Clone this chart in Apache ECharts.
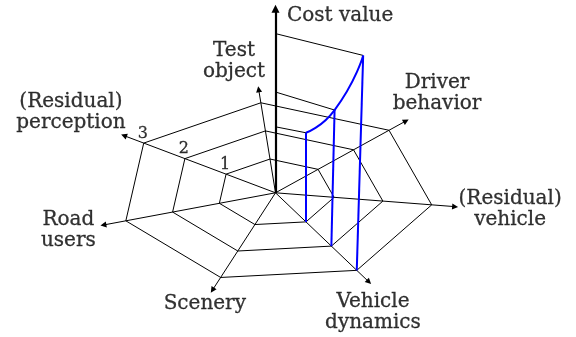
<!DOCTYPE html>
<html><head><meta charset="utf-8">
<script src="https://cdn.jsdelivr.net/npm/echarts@6/dist/echarts.min.js"></script>
<style>html,body{margin:0;padding:0;background:#fff}#c{width:576px;height:337px}</style>
</head><body><div id="c"></div>
<script>
// ---------- data ----------
const axisNames = ['Test\nobject', 'Driver\nbehavior', '(Residual)\nvehicle', 'Vehicle\ndynamics', 'Scenery', 'Road\nusers', '(Residual)\nperception'];
const ringLevels = [1, 2, 3];
const ringTickLabels = ['1', '2', '3'];
const tickAxis = '(Residual)\nperception';
const costAxisName = 'Cost value';
const costAxisFor = 'Vehicle\ndynamics';
const costLevels = [1, 2, 3];
const costValues = [1.65, 2.52, 3.98];
const costAxisMax = 4.6;
const axisMaxLevel = 3.48;

// ---------- layout ----------
const C = [275.5, 192.8];
const EX = [-4.58, -28.13], EY = [49.02, -2.56];
const R0 = 0.2;
const COST_PX = 40;
const BLUE_STRETCH = 1.35, BLUE_TILT_PER_LEVEL = 3.2;
const labelOffsets = [[-24.6, -28], [31, -28], [55, 3], [4, 30], [-7.6, 14], [-35, 5], [-53, -23]];
const tickOffset = [-1, -9.5];
const costLabelOffset = [11.5, 7];

function proj(k, level) {
  const t = 2 * Math.PI * k / axisNames.length;
  const r = level + R0;
  return [C[0] + r * (Math.cos(t) * EX[0] + Math.sin(t) * EY[0]),
          C[1] + r * (Math.cos(t) * EX[1] + Math.sin(t) * EY[1])];
}
const costPoint = v => [C[0], C[1] - v * COST_PX];

const series = [];
// rings
ringLevels.forEach(l => {
  const pts = axisNames.map((_, k) => proj(k, l));
  pts.push(pts[0]);
  series.push({type: 'line', data: pts, symbol: 'none', lineStyle: {color: '#000', width: 1}, silent: true, z: 2});
});
// radial axes with arrows
series.push({
  type: 'lines', coordinateSystem: 'cartesian2d', z: 3,
  data: axisNames.map((_, k) => ({coords: [C, proj(k, axisMaxLevel)]})),
  symbol: ['none', 'triangle'], symbolSize: 6,
  lineStyle: {color: '#000', width: 1, opacity: 1}
});
// cost axis
series.push({
  type: 'lines', coordinateSystem: 'cartesian2d', z: 5,
  data: [{coords: [C, costPoint(costAxisMax)]}],
  symbol: ['none', 'triangle'], symbolSize: 8,
  lineStyle: {color: '#000', width: 2.2, opacity: 1}
});
// blue verticals and connectors
const kc = axisNames.indexOf(costAxisFor);
const bottoms = costLevels.map(l => proj(kc, l));
const tops = bottoms.map((b, i) => {
  const h = BLUE_STRETCH * costValues[i] * COST_PX;
  return [b[0] + BLUE_TILT_PER_LEVEL * (costLevels[i] - costLevels[0]), b[1] - h];
});
series.push({
  type: 'lines', coordinateSystem: 'cartesian2d', z: 4,
  data: tops.map((t, i) => ({coords: [costPoint(costValues[i]), t]})),
  lineStyle: {color: '#000', width: 1, opacity: 1}
});
series.push({
  type: 'lines', coordinateSystem: 'cartesian2d', z: 6,
  data: tops.map((t, i) => ({coords: [bottoms[i], t]})),
  lineStyle: {color: '#0000ff', width: 2, opacity: 1}
});
series.push({
  type: 'line', data: tops, smooth: 0.6, symbol: 'none', z: 6,
  lineStyle: {color: '#0000ff', width: 2}
});
// labels
const labelData = axisNames.map((n, k) => {
  const p = proj(k, axisMaxLevel);
  return {name: n, value: [p[0] + labelOffsets[k][0], p[1] + labelOffsets[k][1]]};
});
const kt = axisNames.indexOf(tickAxis);
ringLevels.forEach((l, i) => {
  const p = proj(kt, l);
  labelData.push({name: ringTickLabels[i], value: [p[0] + tickOffset[0], p[1] + tickOffset[1]], label: {fontSize: 16}});
});
const cp = costPoint(costAxisMax);
labelData.push({name: costAxisName, value: [cp[0] + costLabelOffset[0], cp[1] + costLabelOffset[1]], label: {align: 'left'}});
series.push({
  type: 'scatter', symbolSize: 0, z: 10, data: labelData,
  label: {show: true, position: 'inside', formatter: '{b}', fontFamily: 'DejaVu Serif', color: '#000',
          textBorderColor: '#000', textBorderWidth: 0.3,
          fontSize: 20, lineHeight: 21, align: 'center', verticalAlign: 'middle'}
});

const chart = echarts.init(document.getElementById('c'), null, {renderer: 'canvas'});
chart.setOption({
  animation: false,
  grid: {left: 0, right: 0, top: 0, bottom: 0},
  xAxis: {type: 'value', min: 0, max: 576, show: false},
  yAxis: {type: 'value', min: 0, max: 337, inverse: true, show: false},
  series: series
});
</script></body></html>
